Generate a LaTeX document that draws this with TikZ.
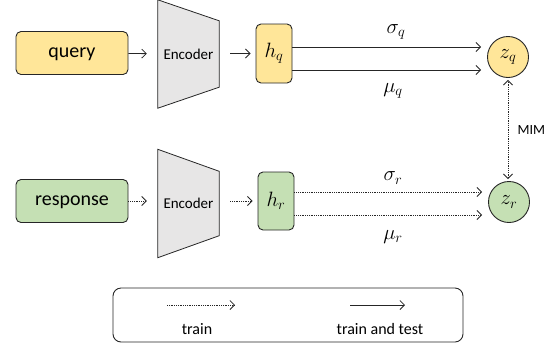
\documentclass[tikz,border=0pt]{standalone}
\usepackage{fontspec}
\setmainfont{Carlito}
\usetikzlibrary{arrows.meta,calc}
\definecolor{yel}{HTML}{FFE699}
\definecolor{grn}{HTML}{C5E0B4}
\definecolor{encgray}{HTML}{E7E6E6}
\tikzset{
  box/.style={draw=black!85, line width=0.9pt, rounded corners=5pt, inner sep=0pt},
  wordbox/.style={box, minimum width=112pt, minimum height=43pt, text depth=0pt, font=\fontsize{20}{24}\selectfont},
  zcirc/.style={draw=black!85, line width=0.9pt, circle, minimum size=41pt, inner sep=0pt, font=\fontsize{20}{24}\selectfont},
  mathlbl/.style={font=\fontsize{20}{24}\selectfont},
  tip/.style={-{Straight Barb[length=4.5pt,width=9pt]}},
  solidarr/.style={tip, line width=0.8pt, black!85},
  dotarr/.style={tip, line width=0.8pt, densely dotted, black!85},
  enc/.style={minimum width=61pt, minimum height=108pt, inner sep=0pt},
  enctext/.style={font=\fontsize{15}{17}\selectfont},
  enclines/.style={draw=black!85, fill=encgray, line width=0.8pt, line join=miter},
}
\begin{document}
\begin{tikzpicture}[x=1pt,y=-1pt]
\useasboundingbox (0,0) rectangle (559,349);

% top row
\node[wordbox, fill=yel] (q) at (72,53) {query};
\node[enc] (enc1) at (188.5,54) {};
\draw[enclines] (enc1.north west) -- ($(enc1.north east)+(0,21)$) -- ($(enc1.south east)+(0,-21)$) -- (enc1.south west) -- cycle;
\node[enctext] (e1t) at (enc1.center) {Encoder};
\node[box, fill=yel, minimum width=36pt, minimum height=59pt, font=\fontsize{20}{24}\selectfont] (hq) at (274,53.5) {$h_q$};
\node[zcirc, fill=yel] (zq) at (508,57) {$z_q$};

\draw[solidarr, shorten >=11pt] (q) -- (enc1);
\draw[solidarr, shorten <=11pt, shorten >=5pt] (enc1.east |- hq) -- (hq);
\draw[solidarr, shorten >=6pt] (hq.east |- 0,47) -- (zq.west |- 0,47);
\draw[solidarr, shorten >=6pt] (hq.east |- 0,70) -- (zq.west |- 0,70);
\node[mathlbl] (sq) at (396,32) {$\sigma_q$};
\node[mathlbl] (mq) at (393,91) {$\mu_q$};

% bottom row
\node[wordbox, fill=grn] (r) at (72,201) {response};
\node[enc] (enc2) at (188.5,203.5) {};
\draw[enclines] (enc2.north west) -- ($(enc2.north east)+(0,22)$) -- ($(enc2.south east)+(0,-22)$) -- (enc2.south west) -- cycle;
\node[enctext] (e2t) at (enc2.center) {Encoder};
\node[box, fill=grn, minimum width=36pt, minimum height=58pt, font=\fontsize{20}{24}\selectfont] (hr) at (276,201) {$h_r$};
\node[zcirc, fill=grn] (zr) at (509,202) {$z_r$};

\draw[dotarr, shorten >=11pt] (r) -- (enc2.west |- r);
\draw[dotarr, shorten <=11pt, shorten >=5pt] (enc2.east |- hr) -- (hr);
\draw[dotarr, shorten >=6pt] (hr.east |- 0,192) -- (zr.west |- 0,192);
\draw[dotarr, shorten >=6pt] (hr.east |- 0,215) -- (zr.west |- 0,215);
\node[mathlbl] (sr) at (393,178) {$\sigma_r$};
\node[mathlbl] (mr) at (393,237) {$\mu_r$};

% MIM
\draw[dotarr, {Straight Barb[length=4.5pt,width=9pt]}-{Straight Barb[length=4.5pt,width=9pt]}, shorten <=2pt, shorten >=2pt] (zr.north -| 508,0) -- (zq.south -| 508,0);
\node[font=\fontsize{14}{16}\selectfont, anchor=west] (mim) at (514,130) {MIM};

% legend
\node[box, minimum width=350pt, minimum height=54pt, rounded corners=8pt] (leg) at (288,315) {};
\coordinate (la1) at (167,305);
\coordinate (la2) at (235,305);
\coordinate (lb1) at (350,305);
\coordinate (lb2) at (405,305);
\draw[dotarr] (la1) -- (la2);
\draw[solidarr] (lb1) -- (lb2);
\node[font=\fontsize{16}{19}\selectfont] (lt1) at (197,329) {train};
\node[font=\fontsize{16}{19}\selectfont] (lt2) at (380,329) {train and test};
\end{tikzpicture}
\end{document}
